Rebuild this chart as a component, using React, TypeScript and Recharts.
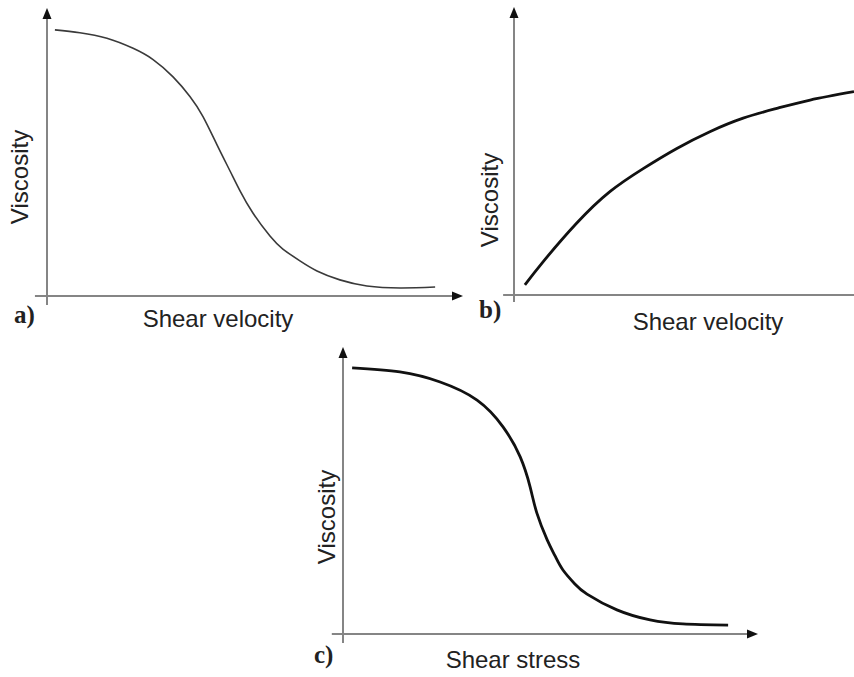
import React from 'react';
import { LineChart, Line, XAxis, YAxis, ReferenceLine } from 'recharts';

// ---- Data (arbitrary units 0..100 on both axes) ----
const aShear = [1.9, 7.9, 14.4, 20.7, 25.5, 30.3, 34.4, 37.5, 40.9, 44.0, 46.4, 49.5, 53.6, 56.7, 60.8, 64.9, 70.4, 76.9, 84.9, 93.3];
const aViscosity = [92.4, 91.4, 89.5, 86.0, 82.1, 76.1, 69.2, 62.3, 52.4, 43.4, 36.5, 28.8, 20.8, 16.3, 12.2, 8.7, 5.6, 3.5, 2.8, 3.1];

const bShear = [3.2, 8.6, 18.4, 28.2, 38.0, 47.9, 57.6, 67.4, 77.3, 87.1, 100];
const bViscosity = [3.5, 11.6, 24.9, 35.9, 43.9, 50.9, 56.7, 61.4, 64.8, 67.7, 70.6];

const cStress = [2.2, 13.7, 23.4, 32.3, 38.6, 42.7, 45.1, 46.7, 49.2, 51.1, 53.0, 55.9, 58.8, 66.0, 74.0, 81.9, 92.8];
const cViscosity = [92.7, 91.3, 87.8, 81.5, 72.1, 61.7, 51.2, 42.2, 32.8, 27.2, 22.3, 17.4, 13.9, 8.4, 4.9, 3.5, 3.1];

const xLabels = ['Shear velocity', 'Shear velocity', 'Shear stress'];
const yLabels = ['Viscosity', 'Viscosity', 'Viscosity'];
const panelLetters = ['a)', 'b)', 'c)'];

const toRows = (xs: number[], ys: number[]) => xs.map((x, i) => ({ x, y: ys[i] }));

const AXIS_COLOR = '#858585';

const arrowShape = (p: any) => {
  const { x1, y1, x2, y2 } = p;
  if ([x1, y1, x2, y2].some((v) => typeof v !== 'number' || isNaN(v))) return <g />;
  const dx = x2 - x1;
  const dy = y2 - y1;
  const len = Math.hypot(dx, dy) || 1;
  const ux = dx / len;
  const uy = dy / len;
  const L = 11;
  const W = 4.5;
  const bx = x2 - ux * L;
  const by = y2 - uy * L;
  const pts = `${x2},${y2} ${bx - uy * W},${by + ux * W} ${bx + uy * W},${by - ux * W}`;
  return (
    <g>
      <line x1={x1} y1={y1} x2={bx} y2={by} stroke={AXIS_COLOR} strokeWidth={2} />
      <polygon points={pts} fill="#111" />
    </g>
  );
};

const plainShape = (p: any) => {
  const { x1, y1, x2, y2 } = p;
  if ([x1, y1, x2, y2].some((v) => typeof v !== 'number' || isNaN(v))) return <g />;
  return <line x1={x1} y1={y1} x2={x2} y2={y2} stroke={AXIS_COLOR} strokeWidth={2} />;
};

type Panel = {
  rows: { x: number; y: number }[];
  left: number;
  top: number;
  width: number;
  height: number;
  margin: { top: number; right: number; bottom: number; left: number };
  stroke: string;
  strokeWidth: number;
  yAxisFrom: number;
  xAxisFrom: number;
  xAxisTo: number;
  xArrow: boolean;
  xLabel: string;
  yLabel: string;
  letter: string;
  xLabelPos: [number, number];
  yLabelPos: [number, number];
  letterPos: [number, number];
};

// margins below exclude the 1px reserved by each (invisible) axis
const panels: Panel[] = [
  {
    rows: toRows(aShear, aViscosity),
    left: 0, top: 0, width: 470, height: 340,
    margin: { top: 8, right: 7, bottom: 43, left: 46 },
    stroke: '#3a3a3a', strokeWidth: 1.6,
    yAxisFrom: -3.1, xAxisFrom: -2.9, xAxisTo: 100, xArrow: true,
    xLabel: xLabels[0], yLabel: yLabels[0], letter: panelLetters[0],
    xLabelPos: [171, 31], yLabelPos: [-19, 169], letterPos: [-33, 27],
  },
  {
    rows: toRows(bShear, bViscosity),
    left: 470, top: 0, width: 384, height: 340,
    margin: { top: 7, right: 0, bottom: 44, left: 43 },
    stroke: '#111', strokeWidth: 2.8,
    yAxisFrom: -2.4, xAxisFrom: -3.2, xAxisTo: 100, xArrow: false,
    xLabel: xLabels[1], yLabel: yLabels[1], letter: panelLetters[1],
    xLabelPos: [194, 35], yLabelPos: [-16, 193], letterPos: [-35, 23],
  },
  {
    rows: toRows(cStress, cViscosity),
    left: 290, top: 340, width: 490, height: 337,
    margin: { top: 7, right: 22, bottom: 42, left: 52 },
    stroke: '#111', strokeWidth: 2.8,
    yAxisFrom: -3.1, xAxisFrom: -2.7, xAxisTo: 100, xArrow: true,
    xLabel: xLabels[2], yLabel: yLabels[2], letter: panelLetters[2],
    xLabelPos: [170, 34], yLabelPos: [-8, 170], letterPos: [-29, 29],
  },
];

const SANS = '"Liberation Sans", Arial, sans-serif';
const SERIF = '"Liberation Serif", "Times New Roman", serif';

const PanelChart = ({ p }: { p: Panel }) => {
  const xLabelContent = (props: any) => {
    const vb = props && props.viewBox;
    if (!vb) return null;
    const bottom = vb.y;
    return (
      <g>
        <text
          x={vb.x + p.xLabelPos[0]}
          y={bottom + p.xLabelPos[1]}
          textAnchor="middle"
          fontFamily={SANS}
          fontSize={24}
          fill="#222"
        >
          {p.xLabel}
        </text>
        <text
          x={vb.x + p.letterPos[0]}
          y={bottom + p.letterPos[1]}
          textAnchor="start"
          fontFamily={SERIF}
          fontWeight="bold"
          fontSize={25}
          fill="#222"
        >
          {p.letter}
        </text>
      </g>
    );
  };
  const yLabelContent = (props: any) => {
    const vb = props && props.viewBox;
    if (!vb) return null;
    const right = vb.x + (vb.width || 0);
    const lx = right + p.yLabelPos[0];
    const ly = vb.y + p.yLabelPos[1];
    return (
      <text
        x={lx}
        y={ly}
        transform={`rotate(-90, ${lx}, ${ly})`}
        textAnchor="middle"
        fontFamily={SANS}
        fontSize={24}
        fill="#222"
      >
        {p.yLabel}
      </text>
    );
  };
  return (
    <div style={{ position: 'absolute', left: p.left, top: p.top, width: p.width, height: p.height }}>
      <LineChart width={p.width} height={p.height} data={p.rows} margin={p.margin}>
        <XAxis
          type="number"
          dataKey="x"
          domain={[0, 100]}
          height={1}
          axisLine={false}
          tick={false}
          tickLine={false}
          label={xLabelContent}
        />
        <YAxis
          type="number"
          domain={[0, 100]}
          width={1}
          axisLine={false}
          tick={false}
          tickLine={false}
          label={yLabelContent}
        />
        <ReferenceLine
          segment={[{ x: 0, y: p.yAxisFrom }, { x: 0, y: 100 }]}
          ifOverflow="visible"
          stroke={AXIS_COLOR}
          strokeWidth={2}
          shape={arrowShape}
        />
        <ReferenceLine
          segment={[{ x: p.xAxisFrom, y: 0 }, { x: p.xAxisTo, y: 0 }]}
          ifOverflow="visible"
          stroke={AXIS_COLOR}
          strokeWidth={2}
          shape={p.xArrow ? arrowShape : plainShape}
        />
        <Line
          type="natural"
          dataKey="y"
          stroke={p.stroke}
          strokeWidth={p.strokeWidth}
          dot={false}
          activeDot={false}
          isAnimationActive={false}
        />
      </LineChart>
    </div>
  );
};

export default function App() {
  return (
    <div
      style={{
        position: 'absolute',
        left: 0,
        top: 0,
        width: 854,
        height: 677,
        background: '#fff',
        overflow: 'hidden',
      }}
    >
      {panels.map((p, i) => (
        <PanelChart key={i} p={p} />
      ))}
    </div>
  );
}
